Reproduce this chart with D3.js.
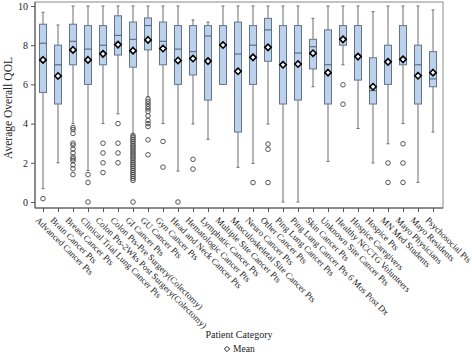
<!DOCTYPE html>
<html><head><meta charset="utf-8">
<script src="https://cdn.jsdelivr.net/npm/d3@7"></script>
<style>body{margin:0;background:#fff} text{font-family:"Liberation Serif","Times New Roman",serif;fill:#222}</style>
</head><body><svg id="c" width="472" height="353"></svg>
<script>
const categories=["Advanced Cancer Pts","Brain Cancer Pts","Breast Cancer Pts","Clinical Trial Lung Cancer Pts","Colon Pts-2Wks Post Surgery(Colectomy)","Colon Pts-Pre Surgery(Colectomy)","GI Cancer Pts","GU Cancer Pts","Gyn Cancer Pts","Head and Neck Cancer Pts","Hematologic Cancer Pts","Lymphatic Cancer Pts","Multiple Site Cancer Pts","Musculoskeletal Site Cancer Pts","Neuro Cancer Pts","Other Cancer Pts","Ping Lung Cancer Pts","Ping Lung Cancer Pts 6 Mos Post Dx","Skin Cancer Pts","Unknown Site Cancer Pts","Healthy NCCTG Volunteers","Hospice Caregivers","Hospice Pts","MN Med Students","Mayo Physicians","Mayo Residents","Psychosocial Pts"];
const whiskerLow=[0.68,2.0,4.0,1.6,4.0,4.5,3.43,5.38,4.0,1.58,3.98,3.2,6.0,1.77,1.97,3.98,0,0,5.88,2.07,7.0,3.75,1.99,2.97,4.0,1.0,3.57];
const q1=[5.59,5.0,7.0,6.0,7.0,7.5,6.88,7.76,7.0,6.0,6.48,5.2,6.0,3.57,6.0,7.18,5.0,5.2,6.79,5.0,8.0,6.22,5.0,6.0,7.0,5.0,5.88];
const median=[8.1,7.0,8.2,7.8,8.0,8.5,8.3,9.0,8.2,7.8,7.67,8.47,8.0,7.55,8.0,8.78,7.0,7.6,7.92,7.0,8.3,7.5,5.68,7.13,7.3,7.0,6.28];
const q3=[9.07,8.0,9.07,9.0,9.0,9.5,9.18,9.39,9.18,9.0,9.0,9.0,9.0,9.18,9.0,9.37,9.0,9.0,8.3,8.78,9.0,9.0,7.36,8.0,9.0,8.0,7.67];
const whiskerHigh=[9.68,9.03,10,10,10,10,10,10,10,10,9.29,9.18,10,10,10,10,10,10,9.37,10,10,10,9.71,10,10,10,9.8];
const means=[7.25,6.43,7.76,7.25,7.56,8.03,7.72,8.27,7.83,7.22,7.32,7.19,8.01,6.67,7.38,7.89,7.0,7.04,7.59,6.6,8.3,7.42,5.88,7.15,7.28,6.44,6.6];
const outliers=[[0.17],[],[3.8,3.7,3.5,3.0,2.9,2.7,2.5,2.3,2.2,2.1,1.9,1.7,1.4],[1.4,1.0,0],[3.0,2.5,2.0,1.5],[4.0,3.0,2.5,2.0],
[3.4,3.3,3.2,3.1,3.0,2.9,2.8,2.7,2.6,2.5,2.4,2.3,2.2,2.1,2.0,1.9,1.8,1.7,1.6,1.5,1.4,1.3,1.2,1.1,0],
[5.25,5.13,5.0,4.87,4.75,4.62,4.4,4.16,4.0,3.85,3.17,2.41],[3.09,1.78],[0],[2.18,1.68],[],[],[],[0.99],[2.96,2.69,0.99],[],[],[],[],[5.98,4.99],[],[],[1.99,1.0],[2.97,1.99,1.0],[],[]];
const yTicks=[0,2,4,6,8,10];

const svg=d3.select("#c");
const L=35,R=443,T=2,B=208;
const x=d3.scalePoint().domain(categories).range([43,433]);
const y=d3.scaleLinear().domain([0,10]).range([202,6]);
const data=categories.map((c,i)=>({c,lo:whiskerLow[i],q1:q1[i],md:median[i],q3:q3[i],hi:whiskerHigh[i],mn:means[i],out:outliers[i]}));

// frame
svg.append("rect").attr("x",L).attr("y",T).attr("width",R-L).attr("height",B-T).attr("fill","none").attr("stroke","#8a8a8a").attr("stroke-width",1);

// axes
const ya=svg.append("g").attr("transform",`translate(${L},0)`).call(d3.axisLeft(y).tickValues(yTicks).tickSize(4).tickPadding(3));
ya.select(".domain").attr("d",`M0,${T}V${B}`).attr("stroke","#555");
ya.selectAll(".tick line").attr("stroke","#555");
ya.selectAll("text").attr("font-size",10).attr("fill","#222").attr("font-family","Liberation Serif");

const xa=svg.append("g").attr("transform",`translate(0,${B})`).call(d3.axisBottom(x).tickSize(4).tickPadding(2));
xa.select(".domain").attr("d",`M${L},0H${R}`).attr("stroke","#555");
xa.selectAll(".tick line").attr("stroke","#555");
xa.selectAll("text").attr("font-size",9).attr("fill","#222").attr("font-family","Liberation Serif")
  .attr("text-anchor","start").attr("transform","rotate(45)").attr("dx",3).attr("dy",9);

const g=svg.append("g");
const bw=7;
const bx=g.selectAll("g.b").data(data).join("g").attr("class","b").attr("transform",d=>`translate(${x(d.c)},0)`);
bx.append("line").attr("y1",d=>y(d.hi)).attr("y2",d=>y(d.q3)).attr("stroke","#6e6e6e");
bx.append("line").attr("y1",d=>y(d.q1)).attr("y2",d=>y(d.lo)).attr("stroke","#6e6e6e");
bx.append("line").attr("x1",-1.5).attr("x2",1.5).attr("y1",d=>y(d.hi)).attr("y2",d=>y(d.hi)).attr("stroke","#6e6e6e");
bx.append("line").attr("x1",-1.5).attr("x2",1.5).attr("y1",d=>y(d.lo)).attr("y2",d=>y(d.lo)).attr("stroke","#6e6e6e");
bx.append("rect").attr("x",-bw/2).attr("width",bw).attr("y",d=>y(d.q3)).attr("height",d=>y(d.q1)-y(d.q3))
  .attr("fill","#bcd2ec").attr("stroke","#62738a").attr("stroke-width",1);
bx.append("line").attr("x1",-bw/2).attr("x2",bw/2).attr("y1",d=>y(d.md)).attr("y2",d=>y(d.md)).attr("stroke","#4a5a70").attr("stroke-width",1);
bx.selectAll("circle").data(d=>d.out).join("circle").attr("cx",0).attr("cy",v=>y(v)).attr("r",2.3)
  .attr("fill","none").attr("stroke","#444").attr("stroke-width",0.9);
const diamond=d3.symbol().type(d3.symbolDiamond2).size(26);
bx.append("path").attr("d",diamond).attr("transform",d=>`translate(0,${y(d.mn)})`)
  .attr("fill","#fff").attr("stroke","#000").attr("stroke-width",1.6);

// titles
svg.append("text").attr("transform",`translate(12,108) rotate(-90)`).attr("text-anchor","middle").attr("font-size",11.5).text("Average Overall QOL");
svg.append("text").attr("x",(L+R)/2).attr("y",338).attr("text-anchor","middle").attr("font-size",10).text("Patient Category");
// legend
svg.append("path").attr("d",d3.symbol().type(d3.symbolDiamond2).size(18)).attr("transform","translate(227,349)").attr("fill","#fff").attr("stroke","#222").attr("stroke-width",1);
svg.append("text").attr("x",233).attr("y",352).attr("font-size",9.5).text("Mean");
</script></body></html>
